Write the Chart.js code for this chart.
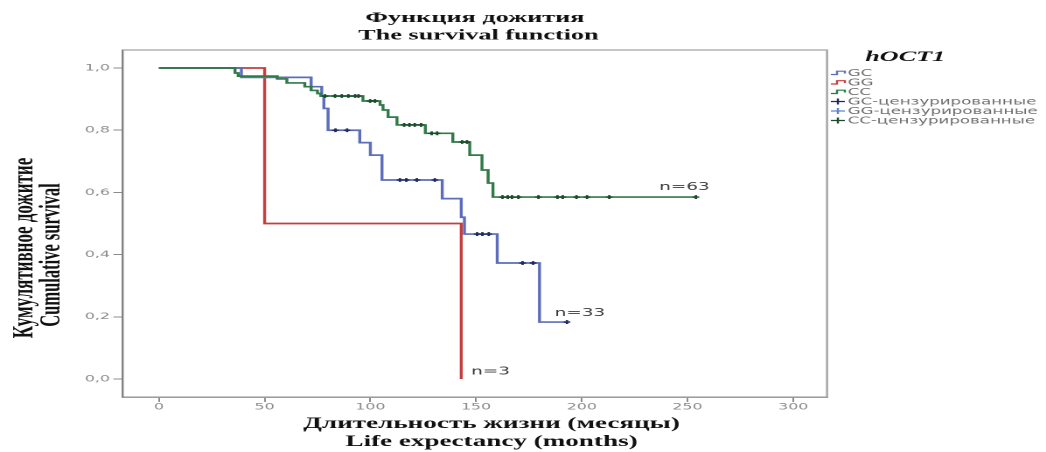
<!DOCTYPE html>
<html>
<head>
<meta charset="utf-8">
<script src="https://cdn.jsdelivr.net/npm/chart.js@4/dist/chart.umd.min.js"></script>
<style>
  html, body { margin: 0; padding: 0; background: #fff; overflow: hidden; }
  /* the plot is laid out narrow and widened horizontally, like the SPSS export */
  #wrap { position: absolute; left: 0; top: 0; width: 598px; height: 452px;
          transform: scaleX(1.7492); transform-origin: 0 0; }
</style>
</head>
<body>
<div id="wrap"><canvas id="c"></canvas></div>
<script>
// Kaplan–Meier survival by hOCT1 genotype (months, cumulative survival)
const gcTimes    = [0, 39, 72, 77, 78, 80, 95, 100, 105.5, 134, 143, 144.5, 160, 180, 193];
const gcSurvival = [1, 0.97, 0.94, 0.91, 0.87, 0.80, 0.76, 0.72, 0.64, 0.58, 0.52, 0.466, 0.373, 0.183, 0.183];
const gcCensored = [83.5, 89, 114, 117, 122, 130.5, 150.5, 153, 156, 172, 177, 193];

const ggTimes    = [0, 50, 143];
const ggSurvival = [1, 0.5, 0];

const ccTimes    = [0, 36, 37.5, 56, 60.5, 69, 72, 75, 76.5, 96.5, 104.6, 106, 108.4, 112.6, 126, 139, 147, 152.8, 155.7, 158, 254];
const ccSurvival = [1, 0.984, 0.974, 0.965, 0.952, 0.94, 0.928, 0.918, 0.91, 0.894, 0.881, 0.865, 0.842, 0.817, 0.79, 0.762, 0.72, 0.672, 0.63, 0.585, 0.585];
const ccCensored = [78.6, 83.3, 86.5, 89.6, 92.8, 94.4, 99.9, 102.2, 116, 118.5, 121, 124, 129, 131.6,
                    143.4, 145.7, 162.5, 165, 167, 170, 179.5, 188.5, 191, 197.5, 202.5, 213, 254];

const groupSizes = ['n=63', 'n=33', 'n=3'];

const xTickValues = [0, 50, 100, 150, 200, 250, 300];
const yTickValues = [0, 0.2, 0.4, 0.6, 0.8, 1.0];
const yTickLabels = ['0,0', '0,2', '0,4', '0,6', '0,8', '1,0'];

const legendLabels = ['GC', 'GG', 'CC', 'GC-цензурированные', 'GG-цензурированные', 'CC-цензурированные'];

// colours
const BLUE = '#5c6dbb', RED = '#c53d3d', GREEN = '#2f7a47';
const BLUE_DARK = '#1e2a5e', GREEN_DARK = '#1c4a2a', BLUE_LIGHT = '#5b82d2';

function toPoints(times, surv) {
  return times.map((t, i) => ({ x: t, y: surv[i] }));
}
// value of a step curve at time t (censor ticks sit on the curve)
function survivalAt(times, surv, t) {
  let s = surv[0];
  for (let i = 0; i < times.length; i++) { if (times[i] <= t) s = surv[i]; }
  return s;
}
function censorPoints(cens, times, surv) {
  return cens.map(t => ({ x: t, y: survivalAt(times, surv, t) }));
}

const stepLine = (data, color) => ({
  type: 'line', data, stepped: 'before', borderColor: color, borderWidth: 1.7,
  pointRadius: 0, fill: false, tension: 0
});
const censorMarks = (data, color) => ({
  type: 'scatter', data, showLine: false, pointStyle: 'cross', pointRadius: 1.9,
  pointBorderWidth: 1.4, borderColor: color, backgroundColor: color
});

const serifBold = (size, italic) => `${italic ? 'italic ' : ''}bold ${size}px "Liberation Serif", "Times New Roman", serif`;
const sans = size => `${size}px "DejaVu Sans", sans-serif`;

const decorations = {
  id: 'decorations',
  afterDraw(chart) {
    const { ctx, chartArea: a, scales: { x, y } } = chart;
    ctx.save();

    // frame: top and right edges of the plot box
    ctx.strokeStyle = '#a3a3a3';
    ctx.lineWidth = 1.2;
    ctx.beginPath();
    ctx.moveTo(a.left, a.top);
    ctx.lineTo(a.right, a.top);
    ctx.lineTo(a.right, a.bottom);
    ctx.stroke();

    ctx.fillStyle = '#111';
    ctx.textAlign = 'center';
    ctx.textBaseline = 'middle';

    // main title
    ctx.font = serifBold(15);
    ctx.fillText('Функция дожития', 271.5, 18);
    ctx.fillText('The survival function', 273.5, 35.5);

    // x axis title
    ctx.font = serifBold(15.5);
    ctx.fillText('Длительность жизни (месяцы)', 281, 424);
    ctx.fillText('Life expectancy (months)', 281, 442);

    // y axis title (rotated)
    ctx.font = serifBold(17);
    ctx.save(); ctx.translate(14.3, 248); ctx.rotate(-Math.PI / 2);
    ctx.fillText('Кумулятивное дожитие', 0, 0); ctx.restore();
    ctx.font = serifBold(16.5);
    ctx.save(); ctx.translate(29.8, 255); ctx.rotate(-Math.PI / 2);
    ctx.fillText('Cumulative survival', 0, 0); ctx.restore();

    // group sizes next to the curve ends
    ctx.font = sans(10.5);
    ctx.fillStyle = '#3a3a3a';
    ctx.textAlign = 'left';
    const ends = [
      [ccTimes[ccTimes.length - 1], ccSurvival[ccSurvival.length - 1], -21, -10],
      [gcTimes[gcTimes.length - 1], gcSurvival[gcSurvival.length - 1], -7, -9],
      [ggTimes[ggTimes.length - 1], ggSurvival[ggSurvival.length - 1], 5.7, -7]
    ];
    ends.forEach(([t, s, dx, dy], i) => {
      ctx.fillText(groupSizes[i], x.getPixelForValue(t) + dx, y.getPixelForValue(s) + dy);
    });

    // legend
    ctx.fillStyle = '#111';
    ctx.textAlign = 'center';
    ctx.font = serifBold(15, true);
    ctx.fillText('hOCT1', 517.5, 57);

    const rows = [73, 82.5, 92, 101.5, 111, 120.5];
    const iconColors = [BLUE, RED, GREEN, BLUE_DARK, BLUE_LIGHT, GREEN_DARK];
    const x0 = 475, x1 = 483;
    ctx.lineWidth = 1.2;
    rows.forEach((ry, i) => {
      ctx.strokeStyle = iconColors[i];
      ctx.beginPath();
      if (i < 3) {
        ctx.moveTo(x0, ry + 1.5); ctx.lineTo(x0 + 3.5, ry + 1.5);
        ctx.lineTo(x0 + 3.5, ry - 1.8); ctx.lineTo(x1, ry - 1.8); ctx.lineTo(x1, ry + 0.5);
      } else {
        ctx.moveTo(x0, ry); ctx.lineTo(x1, ry);
        ctx.moveTo(x0 + 4, ry - 3); ctx.lineTo(x0 + 4, ry + 3);
      }
      ctx.stroke();
    });
    ctx.font = sans(9.5);
    ctx.fillStyle = '#6e6e6e';
    ctx.textAlign = 'left';
    legendLabels.forEach((lab, i) => ctx.fillText(lab, 484.6, rows[i] + 0.5));

    ctx.restore();
  }
};

new Chart(document.getElementById('c'), {
  data: {
    datasets: [
      censorMarks(censorPoints(ccCensored, ccTimes, ccSurvival), GREEN_DARK),
      censorMarks(censorPoints(gcCensored, gcTimes, gcSurvival), BLUE_DARK),
      stepLine(toPoints(ccTimes, ccSurvival), GREEN),
      stepLine(toPoints(gcTimes, gcSurvival), BLUE),
      stepLine(toPoints(ggTimes, ggSurvival), RED)
    ]
  },
  options: {
    responsive: true,
    maintainAspectRatio: false,
    devicePixelRatio: 2,
    animation: false,
    layout: { padding: { left: 0, top: 50, right: 125.2, bottom: 0 } },
    plugins: { legend: { display: false }, title: { display: false }, tooltip: { enabled: false } },
    scales: {
      x: {
        type: 'linear', min: -17, max: 316,
        afterBuildTicks: s => { s.ticks = xTickValues.map(v => ({ value: v })); },
        afterFit: s => { s.height = 55; },
        grid: { drawOnChartArea: false, drawTicks: true, tickLength: 5, color: '#8c8c8c', lineWidth: 1 },
        border: { display: true, color: '#8f8f8f', width: 1.4 },
        ticks: { color: '#8a8a8a', font: { family: 'DejaVu Sans', size: 9 }, padding: 0,
                 maxRotation: 0, autoSkip: false, callback: (v, i) => String(xTickValues[i]) }
      },
      y: {
        type: 'linear', min: -0.058, max: 1.058,
        afterBuildTicks: s => { s.ticks = yTickValues.map(v => ({ value: v })); },
        afterFit: s => { s.width = 70.3; },
        grid: { drawOnChartArea: false, drawTicks: true, tickLength: 5.5, color: '#8c8c8c', lineWidth: 1 },
        border: { display: true, color: '#808080', width: 1.2 },
        ticks: { color: '#8a8a8a', font: { family: 'DejaVu Sans', size: 9 }, padding: 2,
                 autoSkip: false, callback: (v, i) => yTickLabels[i] }
      }
    }
  },
  plugins: [decorations]
});
</script>
</body>
</html>
